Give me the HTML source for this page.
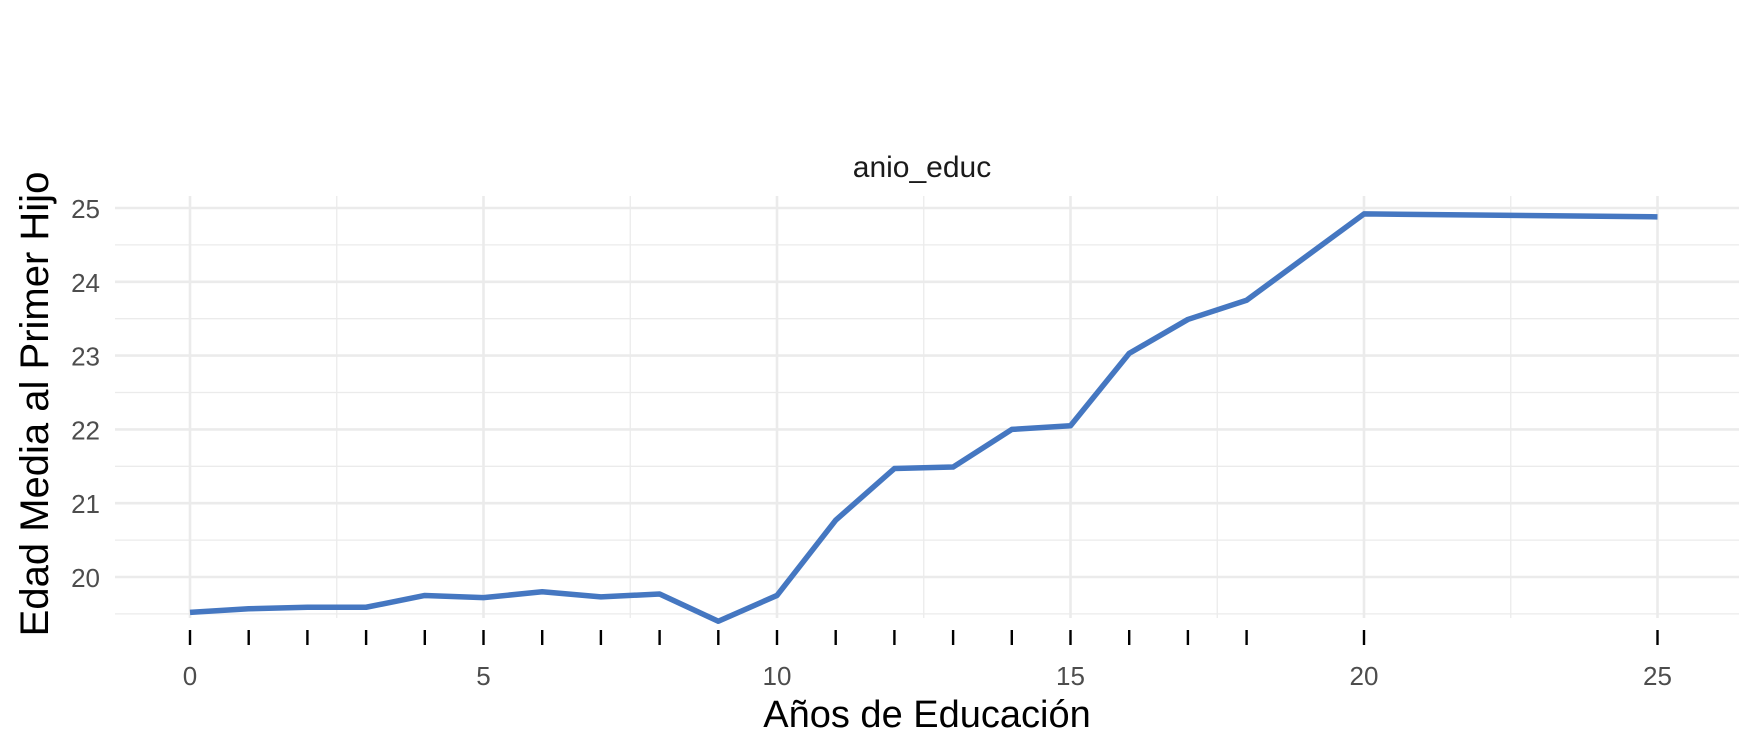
<!DOCTYPE html>
<html><head><meta charset="utf-8"><style>
body{margin:0;background:#fff}
svg{display:block;font-family:"Liberation Sans",sans-serif}
</style></head><body>
<svg id="chart" width="1750" height="750">
<g id="grid"></g>
<g id="marks"></g>
<text x="922" y="177" font-size="30" text-anchor="middle" fill="#1a1a1a">anio_educ</text>
<text x="927" y="727" font-size="38" text-anchor="middle" fill="#000">Años de Educación</text>
<text transform="translate(48,404) rotate(-90)" font-size="40" text-anchor="middle" fill="#000">Edad Media al Primer Hijo</text>
</svg>
<script>
const years = [0,1,2,3,4,5,6,7,8,9,10,11,12,13,14,15,16,17,18,20,25];
const ages = [19.52,19.57,19.59,19.59,19.75,19.72,19.80,19.73,19.77,19.40,19.75,20.77,21.47,21.49,22.00,22.05,23.03,23.49,23.75,24.92,24.88];
const yTicks = [20,21,22,23,24,25];
const xTicks = [0,5,10,15,20,25];
const NS='http://www.w3.org/2000/svg';
const xs=v=>190+v*58.7;
const ys=v=>577-(v-20)*73.8;
const L=115,R=1739,T=196,B=618;
const grid=document.getElementById('grid'),marks=document.getElementById('marks'),svg=document.getElementById('chart');
function mk(tag,at,p){const e=document.createElementNS(NS,tag);for(const k in at)e.setAttribute(k,at[k]);p.appendChild(e);return e;}
for(let v=19.5;v<=25.01;v+=0.5){const maj=Math.abs(v-Math.round(v))<0.01;
 const l=mk('line',{x1:L,x2:R,y1:ys(v),y2:ys(v),stroke:'#ebebeb','stroke-width':maj?2.6:1.3},grid);
 
 }
for(let v=0;v<=25.01;v+=2.5){const maj=v%5===0;
 const l=mk('line',{x1:xs(v),x2:xs(v),y1:T,y2:B,stroke:'#ebebeb','stroke-width':maj?2.6:1.3},grid);
 
 }
yTicks.forEach(v=>{const t=mk('text',{x:100,y:ys(v)+10,'font-size':26,'text-anchor':'end',fill:'#4d4d4d'},svg);t.textContent=v;
 
 });
xTicks.forEach(v=>{const t=mk('text',{x:xs(v),y:685,'font-size':26,'text-anchor':'middle',fill:'#4d4d4d'},svg);t.textContent=v;
 
 });
years.forEach(v=>{const l=mk('line',{x1:xs(v),x2:xs(v),y1:630,y2:645,stroke:'#000','stroke-width':2.4},marks);
 
 });
const p=mk('polyline',{points:years.map((v,i)=>xs(v)+','+ys(ages[i])).join(' '),fill:'none',stroke:'#4577c1','stroke-width':5.5,'stroke-linejoin':'round'},marks);


</script>
</body></html>
